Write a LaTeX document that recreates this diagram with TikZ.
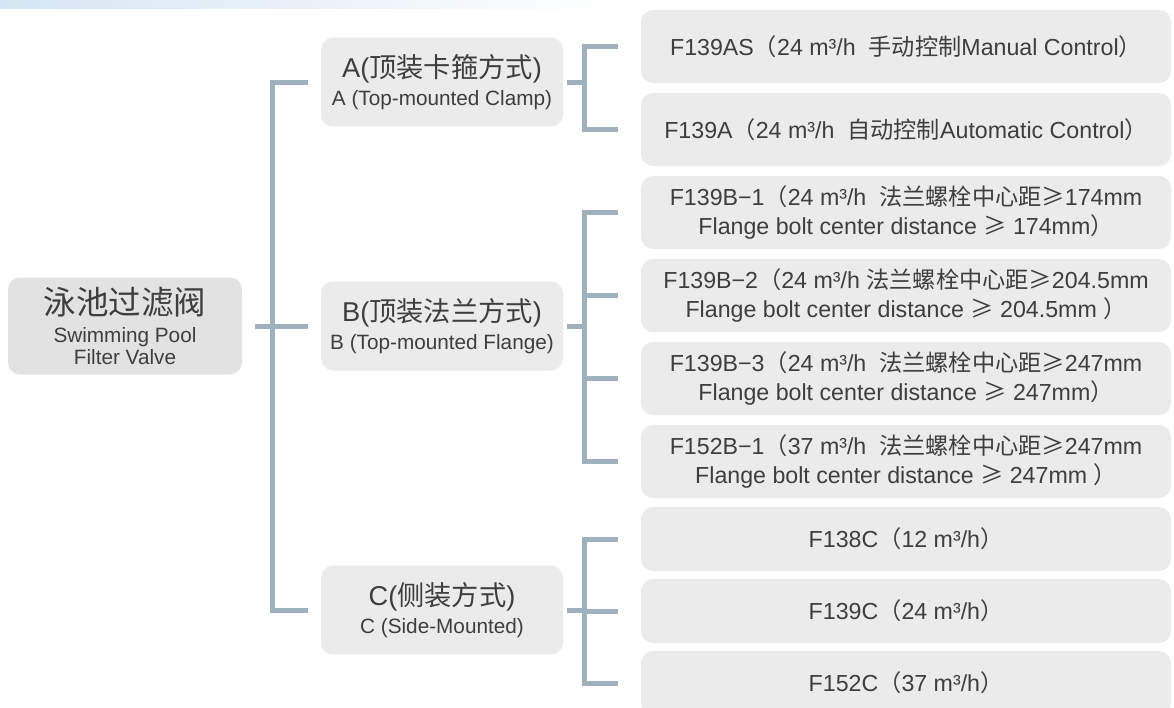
\documentclass[tikz,border=0pt]{standalone}
\usepackage{fontspec}
\setmainfont{Liberation Sans}
\newfontfamily\cjk{Noto Sans CJK SC}
\usepackage{tikz}
\usetikzlibrary{positioning}
\usetikzlibrary{calc}
\definecolor{boxgray}{HTML}{EBEBEB}
\definecolor{rootgray}{HTML}{E2E2E2}
\definecolor{bargray}{HTML}{9FB1BD}
\definecolor{inkgray}{HTML}{3E3E3E}
\definecolor{bandblue}{HTML}{D5E5F3}

\begin{document}
\begin{tikzpicture}[valve/.style={rectangle,rounded corners=0.24cm,fill=rootgray,text=inkgray,inner sep=0pt,outer sep=0pt,
	minimum width=4.68cm,minimum height=1.94cm,align=center,font=\fontsize{11.8}{12.5}\selectfont},
	mount/.style={rectangle,rounded corners=0.24cm,fill=boxgray,text=inkgray,inner sep=0pt,outer sep=0pt,
	minimum width=4.84cm,minimum height=1.78cm,align=center,font=\fontsize{11.8}{14}\selectfont},
	model/.style={rectangle,rounded corners=0.24cm,fill=boxgray,text=inkgray,inner sep=0pt,outer sep=0pt,
	minimum width=10.6cm,minimum height=1.46cm,align=center,font=\fontsize{13.2}{16}\selectfont},
	lowmodel/.style={model,minimum height=1.28cm},
	bar/.style={draw=bargray,line width=0.1cm}]
	\clip (0,0) rectangle (23.48,-14.14);
	\shade[left color=bandblue,right color=white] (0,0) rectangle (12.4,-0.17);

	\node[valve] (pool) at (2.5,-6.52) {{\fontsize{18.5}{20}\selectfont\cjk 泳池过滤阀}\\[3pt] Swimming Pool\\ Filter Valve};
	\node[mount] (flange) [right=1.58cm of pool] {{\fontsize{15.5}{17}\selectfont B({\cjk 顶装法兰方式})}\\[2pt] B (Top-mounted Flange)};
	\node[mount] (clamp) [above=3.1cm of flange] {{\fontsize{15.5}{17}\selectfont A({\cjk 顶装卡箍方式})}\\[2pt] A (Top-mounted Clamp)};
	\node[mount] (side) [below=3.9cm of flange] {{\fontsize{15.5}{17}\selectfont C({\cjk 侧装方式})}\\[2pt] C (Side-Mounted)};

	\node[model] (f139as) at (18.12,-0.93) {F139AS{\cjk （}24 m³/h\ \ {\cjk 手动控制}Manual Control{\cjk ）}};
	\node[model] (f139a) [below=0.2cm of f139as] {F139A{\cjk （}24 m³/h\ \ {\cjk 自动控制}Automatic Control{\cjk ）}};
	\node[model] (f139b1) [below=0.2cm of f139a] {F139B−1{\cjk （}24 m³/h\ \ {\cjk 法兰螺栓中心距≥}174mm\\ Flange bolt center distance {\cjk ≥} 174mm{\cjk ）}};
	\node[model] (f139b2) [below=0.2cm of f139b1] {F139B−2{\cjk （}24 m³/h {\cjk 法兰螺栓中心距≥}204.5mm\\ Flange bolt center distance {\cjk ≥} 204.5mm\ {\cjk ）}};
	\node[model] (f139b3) [below=0.2cm of f139b2] {F139B−3{\cjk （}24 m³/h\ \ {\cjk 法兰螺栓中心距≥}247mm\\ Flange bolt center distance {\cjk ≥} 247mm{\cjk ）}};
	\node[model] (f152b1) [below=0.2cm of f139b3] {F152B−1{\cjk （}37 m³/h\ \ {\cjk 法兰螺栓中心距≥}247mm\\ Flange bolt center distance {\cjk ≥} 247mm\ {\cjk ）}};
	\node[lowmodel] (f138c) [below=0.18cm of f152b1] {F138C{\cjk （}12 m³/h{\cjk ）}};
	\node[lowmodel] (f139c) [below=0.16cm of f138c] {F139C{\cjk （}24 m³/h{\cjk ）}};
	\node[lowmodel] (f152c) [below=0.16cm of f139c] {F152C{\cjk （}37 m³/h{\cjk ）}};

	\coordinate (trunk) at (5.44,0);
	\coordinate (fork) at (11.68,0);

	% trunk from the valve to the three mountings
	\draw[bar] ([xshift=0.26cm]pool.east) -- ([xshift=-0.26cm]flange.west);
	\draw[bar] ([xshift=-0.26cm]clamp.west) -- (clamp.west -| trunk) -- (side.west -| trunk) -- ([xshift=-0.26cm]side.west);

	% A
	\draw[bar] ([xshift=0.08cm]clamp.east) -- (clamp.east -| fork);
	\draw[bar] ([xshift=-0.46cm]f139as.west) -- (f139as.west -| fork) -- (f139a.west -| fork) -- ([xshift=-0.46cm]f139a.west);

	% B
	\draw[bar] ([xshift=0.08cm]flange.east) -- (flange.east -| fork);
	\draw[bar] ([xshift=-0.46cm]f139b1.west) -- (f139b1.west -| fork) -- (f152b1.west -| fork) -- ([xshift=-0.46cm]f152b1.west);
	\draw[bar] ([xshift=-0.46cm]f139b2.west) -- (f139b2.west -| fork);
	\draw[bar] ([xshift=-0.46cm]f139b3.west) -- (f139b3.west -| fork);

	% C
	\draw[bar] ([xshift=0.08cm]side.east) -- (side.east -| fork);
	\draw[bar] ([xshift=-0.46cm]f138c.west) -- (f138c.west -| fork) -- (f152c.west -| fork) -- ([xshift=-0.46cm]f152c.west);
	\draw[bar] ([xshift=-0.46cm]f139c.west) -- (f139c.west -| fork);
\end{tikzpicture}
\end{document}
